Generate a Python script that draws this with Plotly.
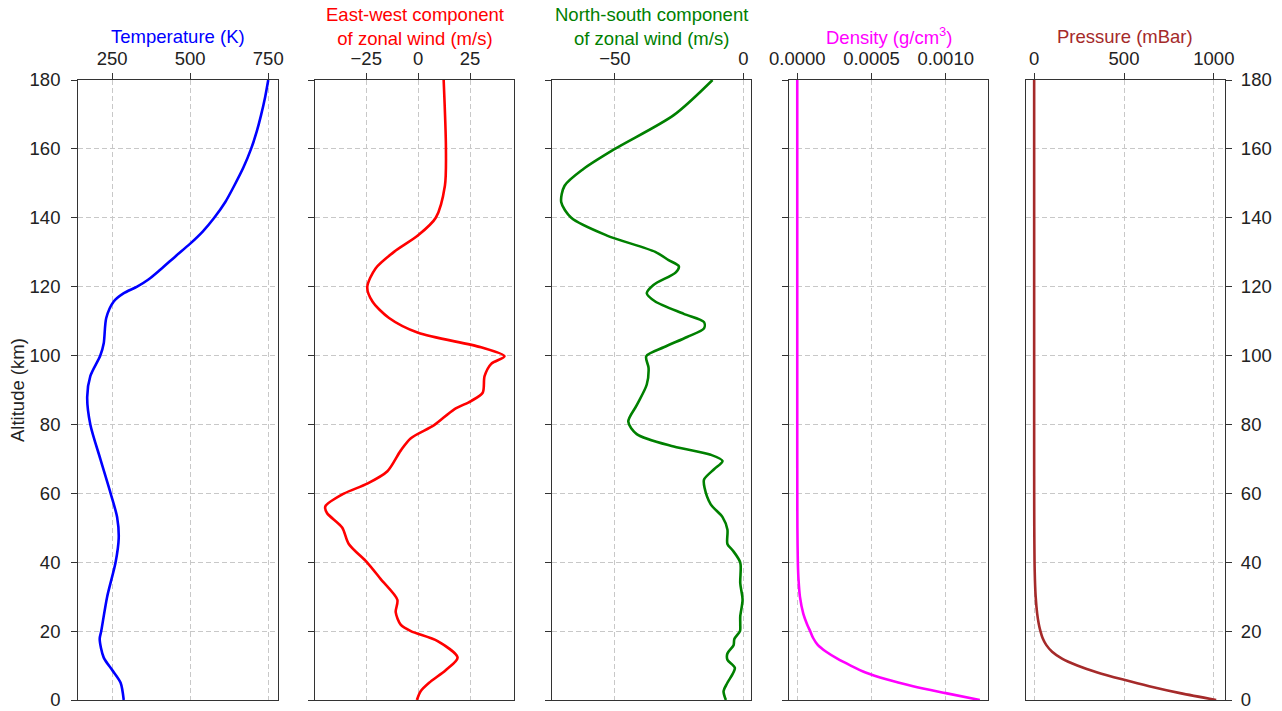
import plotly.graph_objects as go

# ---------------- data ----------------
alt_temp = [0, 5, 8.7, 12.3, 17.7, 20, 30, 40, 47, 53, 60, 70, 80, 88, 94, 100,
            103.6, 110.9, 115.7, 118, 120, 122, 125, 129, 132.5, 136, 140, 144.5,
            149.3, 154.5, 160, 165, 169.8, 175, 180]
temperature = [287, 277, 250, 223, 210, 215, 234, 261, 271, 266, 245, 212, 180, 170,
               180, 212, 223, 231, 255, 285, 330, 365, 405, 455, 500, 540, 577, 612,
               641, 670, 695, 713, 727, 740, 750]

alt_ew = [0, 2.6, 5.0, 8.7, 12.3, 17.1, 20.0, 21.9, 25.5, 29.1, 35.1, 39.9, 45.3, 50.1,
          54.3, 56.2, 59.9, 62.8, 66.4, 72.4, 76.0, 79.8, 84.4, 86.8, 89.2, 94.0, 97.6,
          99.8, 102.4, 106.6, 110.9, 115.7, 119.8, 125.3, 130.1, 134.9, 140, 149.3, 160, 180]
wind_ew = [-0.6, 1.3, 5.3, 13.4, 19.0, 9.4, -3.5, -8.4, -10.8, -10.0, -18.0, -24.5, -33.4,
           -36.6, -43.9, -44.7, -35.8, -24.5, -14.8, -8.4, -3.5, 7.7, 17.4, 25.5, 31.1,
           32.0, 35.2, 41.6, 30.3, 0.0, -14.0, -22.0, -24.5, -20.5, -11.6, 0.0, 8.5,
           12.9, 13.4, 12.3]

alt_ns = [0, 2.6, 5.0, 9.3, 11.7, 13.5, 15.9, 17.7, 20.0, 21.9, 24.3, 29.1, 33.9, 39.9,
          43.5, 45.3, 49.5, 53.1, 56.8, 61.6, 64.0, 67.0, 69.4, 71.2, 73.6, 77.2, 80.8,
          85.6, 91.6, 96.4, 99.8, 102.4, 105.4, 107.9, 109.7, 112.1, 115.7, 118.1, 120.5,
          124.1, 125.9, 127.7, 130.1, 134.9, 140, 144.5, 149.3, 154.1, 160, 169.8, 180]
wind_ns = [-6.8, -7.7, -6.2, -3.3, -6.2, -6.2, -3.8, -3.5, -1.3, -1.2, -1.2, -0.3, -1.2,
           -1.2, -4.2, -6.2, -6.2, -8.1, -12.7, -15.1, -15.3, -11.4, -8.1, -12.7, -27.1,
           -41.5, -44.8, -41.5, -37.6, -36.9, -37.8, -31.0, -21.9, -15.3, -15.3, -23.2,
           -34.3, -37.6, -35.0, -26.4, -25.1, -29.1, -34.3, -53.3, -67.0, -70.9, -69.6,
           -62.4, -50.0, -27.1, -12.0]

alt_dp = [0, 2, 4, 6, 8, 10, 12, 14, 16, 18, 20, 22, 25, 30, 35, 40, 50, 60, 70, 80,
          90, 100, 120, 140, 160, 180]
density = [1.23e-3, 1.0e-3, 7.8e-4, 6.0e-4, 4.6e-4, 3.6e-4, 2.7e-4, 1.95e-4, 1.38e-4,
           1.07e-4, 8.7e-5, 6.6e-5, 4.1e-5, 1.8e-5, 8.5e-6, 4.0e-6, 1.0e-6, 3.0e-7,
           8.0e-8, 1.8e-8, 3.4e-9, 5.6e-10, 2.2e-11, 3.8e-12, 1.2e-12, 5e-13]
pressure = [1013, 812, 640, 490, 352, 240, 155, 100, 67, 47, 35, 26, 17, 8.5, 4.3, 2.2,
            0.75, 0.22, 0.06, 0.012, 0.002, 3e-4, 2.5e-5, 7e-6, 3e-6, 1.5e-6]

titles = ["Temperature (K)", "East-west component<br>of zonal wind (m/s)",
          "North-south component<br>of zonal wind (m/s)", "Density (g/cm<sup>3</sup>)",
          "Pressure (mBar)"]
colors = ["#0000ff", "#ff0000", "#008000", "#ff00ff", "#a52a2a"]
x_ranges = [[141.5, 780], [-49.6, 46.4], [-74.5, 3.1], [-0.0000566, 0.001286], [-47, 1062]]
x_tickvals = [[250, 500, 750], [-25, 0, 25], [-50, 0], [0, 0.0005, 0.0010], [0, 500, 1000]]
x_ticktext = [["250", "500", "750"], ["\u221225", "0", "25"], ["\u221250", "0"],
              ["0.0000", "0.0005", "0.0010"], ["0", "500", "1000"]]
alt_ticks = [0, 20, 40, 60, 80, 100, 120, 140, 160, 180]

# ---------------- layout geometry ----------------
W, H = 1282, 711
left0, right_end = 78.3, 1225.0
pw = 199.3
gap = (right_end - left0 - 5 * pw) / 4
top_px, bot_px = 80, 700
ydom = [(H - bot_px) / H, (H - top_px) / H]

FONT = "Arial, Liberation Sans, sans-serif"
FS = 18.5
AX = "#333333"
GRID = "#c8c8c8"
TXT = "#222222"

series = [(temperature, alt_temp), (wind_ew, alt_ew), (wind_ns, alt_ns),
          (density, alt_dp), (pressure, alt_dp)]

fig = go.Figure()
layout = dict(width=W, height=H, margin=dict(l=0, r=0, t=0, b=0, pad=0, autoexpand=False),
              paper_bgcolor="white", plot_bgcolor="white", showlegend=False,
              font=dict(family=FONT, size=FS, color=TXT))
annotations = []
for i in range(5):
    n = "" if i == 0 else str(i + 1)
    xs, ys = series[i]
    fig.add_trace(go.Scatter(x=xs, y=ys, mode="lines",
                             line=dict(color=colors[i], width=2.6, shape="spline", smoothing=0.8),
                             xaxis="x" + n, yaxis="y" + n))
    x0 = (left0 + i * (pw + gap)) / W
    x1 = (left0 + i * (pw + gap) + pw) / W
    layout["xaxis" + n] = dict(domain=[x0, x1], range=x_ranges[i], side="top",
                              anchor="y" + n, tickvals=x_tickvals[i], ticktext=x_ticktext[i],
                              ticks="outside", ticklen=6, tickwidth=1.3, tickcolor=AX,
                              showline=True, linecolor=AX, linewidth=1.3, mirror=True,
                              showgrid=True, gridcolor=GRID, gridwidth=1, griddash="5px,3px",
                              zeroline=False, tickfont=dict(size=FS, color=TXT),
                              automargin=False, fixedrange=True)
    ydef = dict(domain=ydom, range=[0, 180], anchor="x" + n, tickvals=alt_ticks,
                ticks="outside", ticklen=6, tickwidth=1.3, tickcolor=AX,
                showline=True, linecolor=AX, linewidth=1.3, mirror=True,
                showgrid=True, gridcolor=GRID, gridwidth=1, griddash="5px,3px",
                zeroline=False, tickfont=dict(size=FS, color=TXT),
                automargin=False, fixedrange=True)
    if i == 0:
        ydef.update(side="left", showticklabels=True, ticklabelstandoff=7)
    elif i == 4:
        ydef.update(side="right", showticklabels=True, ticklabelstandoff=5)
    else:
        ydef.update(side="left", showticklabels=False)
    layout["yaxis" + n] = ydef

    two = "<br>" in titles[i]
    yc = 26.5 if two else 36
    annotations.append(dict(text=titles[i], x=(x0 + x1) / 2, xref="paper",
                            y=1 - yc / H, yref="paper", xanchor="center", yanchor="middle",
                            showarrow=False, font=dict(size=FS, color=colors[i], family=FONT)))

annotations.append(dict(text="Altitude (km)", x=17 / W, xref="paper", y=1 - 390 / H,
                        yref="paper", xanchor="center", yanchor="middle", textangle=-90,
                        showarrow=False, font=dict(size=FS, color=TXT, family=FONT)))
layout["annotations"] = annotations
fig.update_layout(**layout)
fig.write_html("out.html")
